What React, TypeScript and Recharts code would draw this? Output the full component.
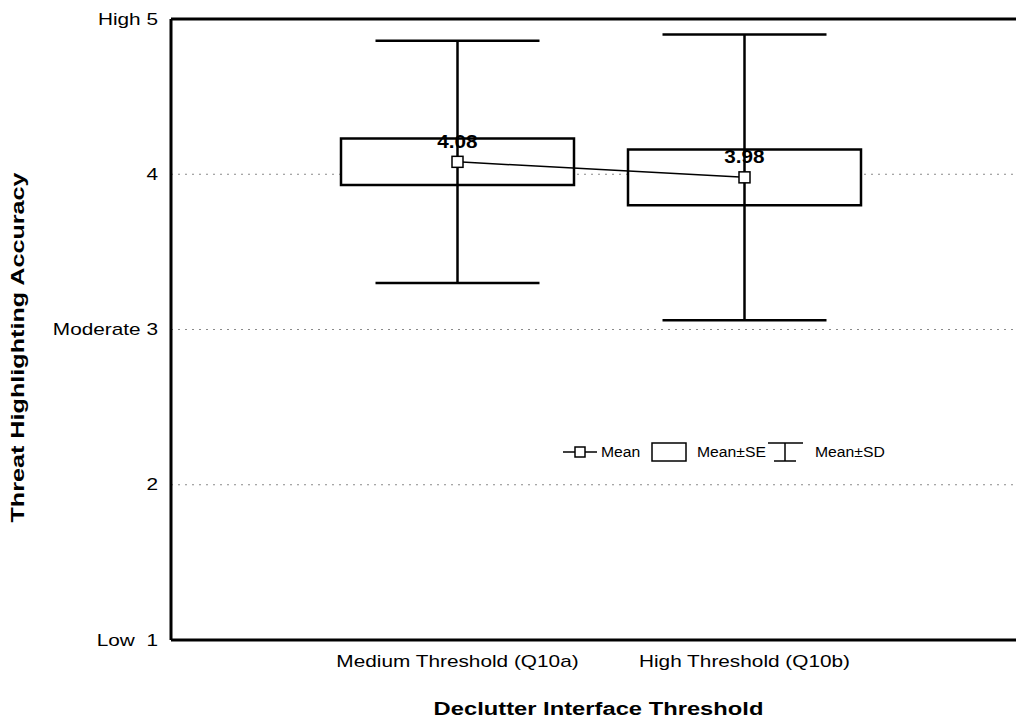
import React from "react";
import {
  ComposedChart,
  Bar,
  Line,
  Scatter,
  ErrorBar,
  XAxis,
  YAxis,
  CartesianGrid,
  ReferenceLine,
  LabelList,
  Legend,
} from "recharts";

const categories = ["Medium Threshold (Q10a)", "High Threshold (Q10b)"];
const means = [4.08, 3.98];
const stdErrors = [0.15, 0.18];
const stdDevs = [0.78, 0.92];
const yTicks = [1, 2, 3, 4, 5];
const yTickLabels = ["Low  1", "2", "Moderate 3", "4", "High 5"];
const legendLabels = ["Mean", "Mean\u00b1SE", "Mean\u00b1SD"];

const data = categories.map((name, i) => ({
  name,
  mean: means[i],
  se: [means[i] - stdErrors[i], means[i] + stdErrors[i]],
  sd: stdDevs[i],
}));

const FONT = '"Liberation Sans", Arial, sans-serif';

function XTick({ x, y, payload }: any) {
  return (
    <text transform={`translate(${x},${y}) scale(1.3,1)`} textAnchor="middle" dy="0.71em" fontSize={16} fill="#000">
      {payload.value}
    </text>
  );
}

function YTick({ x, y, payload }: any) {
  const label = yTickLabels[yTicks.indexOf(payload.value)];
  return (
    <text transform={`translate(${x},${y}) scale(1.3,1)`} textAnchor="end" dy="0.355em" fontSize={16} fill="#000" style={{ whiteSpace: "pre" }}>
      {label}
    </text>
  );
}

function YTitle({ viewBox }: any) {
  const cx = viewBox.x + 10;
  const cy = viewBox.y + viewBox.height / 2 + 18;
  return (
    <text transform={`translate(${cx},${cy}) rotate(-90) scale(1.4,1)`} textAnchor="middle" dy="0.355em" fontSize={18} fontWeight="bold" fill="#000">
      Threat Highlighting Accuracy
    </text>
  );
}

function XTitle({ viewBox }: any) {
  const cx = viewBox.x + viewBox.width / 2 - 3;
  return (
    <text transform={`translate(${cx},707) scale(1.32,1)`} textAnchor="middle" fontSize={18} fontWeight="bold" fill="#000">
      Declutter Interface Threshold
    </text>
  );
}

function SquareDot({ cx, cy }: any) {
  return <rect x={cx - 5.5} y={cy - 5.5} width={11} height={11} fill="#fff" stroke="#000" strokeWidth={1.5} />;
}

function MeanLabel({ x, y, value }: any) {
  return (
    <text transform={`translate(${x},${y - 14}) scale(1.15,1)`} textAnchor="middle" fontSize={18} fontWeight="bold" fill="#000">
      {Number(value).toFixed(2)}
    </text>
  );
}

function LegendBox() {
  return (
    <svg width={330} height={24} style={{ display: "block", overflow: "visible" }}>
      <line x1={0} y1={12} x2={34} y2={12} stroke="#000" strokeWidth={1.5} />
      <rect x={12} y={7} width={10} height={10} fill="#fff" stroke="#000" strokeWidth={1.5} />
      <text transform="translate(38,12) scale(1.05,1)" dy="0.355em" fontSize={15} fill="#000">{legendLabels[0]}</text>
      <rect x={89} y={3} width={34} height={18} fill="#fff" stroke="#000" strokeWidth={1.5} />
      <text transform="translate(134,12) scale(1.05,1)" dy="0.355em" fontSize={15} fill="#000">{legendLabels[1]}</text>
      <line x1={205} y1={3} x2={240} y2={3} stroke="#000" strokeWidth={1.5} />
      <line x1={222} y1={3} x2={222} y2={21} stroke="#000" strokeWidth={1.5} />
      <line x1={211} y1={21} x2={233} y2={21} stroke="#000" strokeWidth={1.5} />
      <text transform="translate(252,12) scale(1.05,1)" dy="0.355em" fontSize={15} fill="#000">{legendLabels[2]}</text>
    </svg>
  );
}

export default function App() {
  return (
    <div style={{ width: 1016, height: 711, overflow: "hidden", fontFamily: FONT }}>
      <ComposedChart
        width={1030}
        height={711}
        data={data}
        margin={{ top: 11, right: 6, bottom: 49, left: 0 }}
        style={{ fontFamily: FONT }}
      >
        <CartesianGrid vertical={false} stroke="#8a8a8a" strokeDasharray="2 5" />
        <XAxis
          dataKey="name"
          padding={{ left: 143, right: 144 }}
          interval={0}
          tick={<XTick />}
          tickLine={false}
          tickSize={0}
          tickMargin={16}
          height={30}
          axisLine={{ stroke: "#000", strokeWidth: 3 }}
          label={(p: any) => <XTitle {...p} />}
        />
        <YAxis
          type="number"
          domain={[1, 5]}
          ticks={yTicks}
          interval={0}
          allowDataOverflow
          width={163}
          tick={<YTick />}
          tickLine={false}
          tickSize={0}
          tickMargin={13}
          axisLine={{ stroke: "#000", strokeWidth: 3 }}
          label={(p: any) => <YTitle {...p} />}
        />
        <ReferenceLine y={5} stroke="#000" strokeWidth={3} />
        <Legend
          layout="vertical"
          verticalAlign="middle"
          align="center"
          content={() => <LegendBox />}
          wrapperStyle={{ left: 555, top: 432, width: 340, height: 24, bottom: "auto" }}
        />
        <Scatter dataKey="mean" shape={() => <g />} isAnimationActive={false} legendType="none">
          <ErrorBar dataKey="sd" direction="y" width={82} stroke="#000" strokeWidth={2.5} />
        </Scatter>
        <Bar dataKey="se" barSize={233} fill="#fff" stroke="#000" strokeWidth={2.5} isAnimationActive={false} legendType="none" />
        <Line
          dataKey="mean"
          stroke="#000"
          strokeWidth={1.5}
          dot={<SquareDot />}
          activeDot={false}
          isAnimationActive={false}
          legendType="none"
        >
          <LabelList dataKey="mean" content={<MeanLabel />} />
        </Line>
      </ComposedChart>
    </div>
  );
}
